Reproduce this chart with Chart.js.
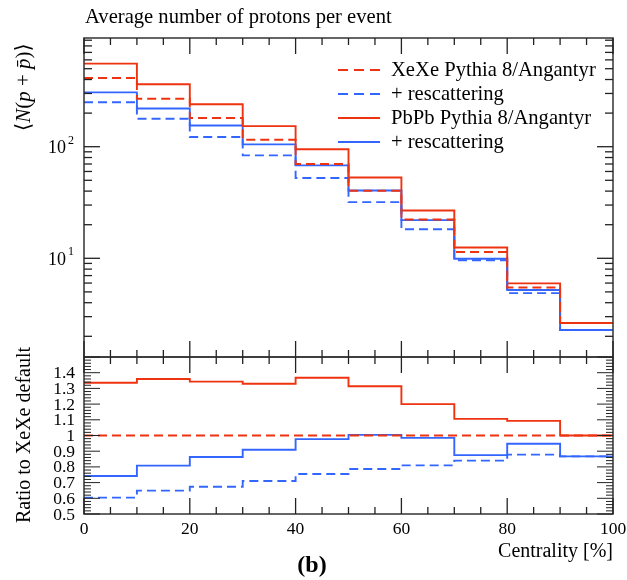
<!DOCTYPE html>
<html>
<head>
<meta charset="utf-8">
<script src="https://cdn.jsdelivr.net/npm/chart.js@4.4.1/dist/chart.umd.min.js"></script>
<style>
  html, body { margin: 0; padding: 0; background: #fff; }
  #wrap { position: relative; width: 627px; height: 580px; }
  #wrap canvas { position: absolute; left: 0; top: 0; }
</style>
</head>
<body>
<div id="wrap">
  <canvas id="mainChart" width="627" height="580"></canvas>
  <canvas id="ratioChart" width="627" height="580"></canvas>
</div>
<script>
// bin edges of the centrality classes
const binEdges = [0, 10, 20, 30, 40, 50, 60, 70, 80, 90, 100];

// <N(p + pbar)> per centrality bin
const xeDefault = [413, 269, 181, 115.5, 70, 40.3, 22.3, 11.4, 5.47, 2.63];
const xeRescatter = [250, 178, 122, 83.6, 52.5, 31.9, 18.2, 9.6, 4.87, 2.28];
const pbDefault = [555, 363, 240, 153, 95, 53, 26.8, 12.5, 5.96, 2.63];
const pbRescatter = [307, 220, 155, 105, 68, 40.5, 22.0, 9.9, 5.2, 2.28];

// ratio to XeXe default
const ratioXeDefault = [1, 1, 1, 1, 1, 1, 1, 1, 1, 1];
const ratioXeRescatter = [0.604, 0.649, 0.674, 0.71, 0.755, 0.787, 0.81, 0.84, 0.878, 0.867];
const ratioPbDefault = [1.336, 1.36, 1.343, 1.33, 1.368, 1.314, 1.2, 1.106, 1.093, 1.0];
const ratioPbRescatter = [0.742, 0.808, 0.863, 0.909, 0.977, 1.004, 0.985, 0.875, 0.947, 0.867];

// tick labels
const xTickLabels = ['0', '20', '40', '60', '80', '100'];
const logTickExponents = ['1', '2'];
const ratioTickLabels = ['0.5', '0.6', '0.7', '0.8', '0.9', '1', '1.1', '1.2', '1.3', '1.4'];

const legendLabels = ['XeXe Pythia 8/Angantyr', '+ rescattering', 'PbPb Pythia 8/Angantyr', '+ rescattering'];

const RED = '#ee3311';
const BLUE = '#3366ff';
const DASH = [9, 5];
const FONT = '"Liberation Serif", "DejaVu Serif", serif';

// histogram -> points for a stepped line (last value repeated at right edge)
function steps(vals) {
  return binEdges.map((x, i) => ({ x: x, y: vals[Math.min(i, vals.length - 1)] }));
}

function series(vals, color, dashed) {
  return {
    data: steps(vals),
    borderColor: color,
    borderWidth: 1.9,
    borderDash: dashed ? DASH : [],
    stepped: 'before',
    pointRadius: 0,
    fill: false
  };
}

function line(ctx, x1, y1, x2, y2) {
  ctx.beginPath();
  ctx.moveTo(x1, y1);
  ctx.lineTo(x2, y2);
  ctx.stroke();
}

function drawFrame(ctx, a) {
  ctx.save();
  ctx.strokeStyle = '#333';
  ctx.lineWidth = 1.5;
  ctx.strokeRect(a.left, a.top, a.right - a.left, a.bottom - a.top);
  ctx.restore();
}

function drawXTicks(ctx, xs, a) {
  ctx.save();
  ctx.strokeStyle = '#222';
  ctx.lineWidth = 1.3;
  for (let v = 0; v <= 100; v += 5) {
    const x = xs.getPixelForValue(v);
    const len = v % 20 === 0 ? 16 : 7;
    line(ctx, x, a.top, x, a.top + len);
    line(ctx, x, a.bottom, x, a.bottom - len);
  }
  ctx.restore();
}

const mainPanel = {
  id: 'mainPanel',
  afterDatasetsDraw(chart) {
    const ctx = chart.ctx;
    const a = chart.chartArea;
    const ys = chart.scales.y;
    drawFrame(ctx, a);
    drawXTicks(ctx, chart.scales.x, a);

    // log y ticks, both sides
    ctx.save();
    ctx.strokeStyle = '#222';
    ctx.lineWidth = 1.3;
    for (let k = 0; k <= 2; k++) {
      for (let m = 1; m <= 9; m++) {
        const v = m * Math.pow(10, k);
        if (v < ys.min || v > ys.max) continue;
        const y = ys.getPixelForValue(v);
        const len = m === 1 ? 16 : 8;
        line(ctx, a.left, y, a.left + len, y);
        line(ctx, a.right, y, a.right - len, y);
      }
    }
    ctx.restore();

    ctx.save();
    ctx.fillStyle = '#000';
    // log tick labels 10^1, 10^2
    logTickExponents.forEach(e => {
      const y = ys.getPixelForValue(Math.pow(10, Number(e)));
      ctx.textBaseline = 'middle';
      ctx.textAlign = 'right';
      ctx.font = '12px ' + FONT;
      ctx.fillText(e, 74, y - 6);
      ctx.font = '18px ' + FONT;
      ctx.fillText('10', 66, y + 2);
    });

    // title
    ctx.textAlign = 'left';
    ctx.textBaseline = 'alphabetic';
    ctx.font = '20.6px ' + FONT;
    ctx.fillText('Average number of protons per event', 85, 23);

    // y axis title <N(p + pbar)>
    ctx.save();
    ctx.translate(24, 131);
    ctx.rotate(-Math.PI / 2);
    ctx.textBaseline = 'middle';
    const parts = [
      ['\u27E8', ''], ['N', 'italic '], ['(', ''], ['p', 'italic '],
      [' + ', ''], ['p\u0304', 'italic '], [')', ''], ['\u27E9', '']
    ];
    let px = 0;
    parts.forEach(([t, st]) => {
      ctx.font = st + '21px ' + FONT;
      ctx.fillText(t, px, 0);
      px += ctx.measureText(t).width;
    });
    ctx.restore();

    // legend
    const rows = [70, 94, 118, 142];
    const styles = [[RED, true], [BLUE, true], [RED, false], [BLUE, false]];
    rows.forEach((y, i) => {
      ctx.save();
      ctx.strokeStyle = styles[i][0];
      ctx.lineWidth = 1.9;
      ctx.setLineDash(styles[i][1] ? [10, 6] : []);
      line(ctx, 338, y, 380, y);
      ctx.restore();
      ctx.font = '20.6px ' + FONT;
      ctx.textBaseline = 'middle';
      ctx.textAlign = 'left';
      ctx.fillText(legendLabels[i], 391, y + 1);
    });
    ctx.restore();
  }
};

const ratioPanel = {
  id: 'ratioPanel',
  afterDatasetsDraw(chart) {
    const ctx = chart.ctx;
    const a = chart.chartArea;
    const xs = chart.scales.x;
    const ys = chart.scales.y;
    drawFrame(ctx, a);
    drawXTicks(ctx, xs, a);

    ctx.save();
    ctx.strokeStyle = '#222';
    ctx.lineWidth = 1;
    for (let i = 25; i <= 75; i++) {
      const y = ys.getPixelForValue(i / 50);
      const len = i % 5 === 0 ? 16 : 7;
      line(ctx, a.left, y, a.left + len, y);
      line(ctx, a.right, y, a.right - len, y);
    }
    ctx.restore();

    ctx.save();
    ctx.fillStyle = '#000';
    ctx.font = '17.5px ' + FONT;
    ctx.textAlign = 'right';
    ctx.textBaseline = 'middle';
    ratioTickLabels.forEach(t => {
      ctx.fillText(t, 75, ys.getPixelForValue(Number(t)) + 1);
    });

    ctx.textAlign = 'center';
    xTickLabels.forEach(t => {
      ctx.fillText(t, xs.getPixelForValue(Number(t)), 529);
    });

    ctx.textAlign = 'right';
    ctx.font = '20px ' + FONT;
    ctx.fillText('Centrality [%]', 613, 552);

    ctx.textAlign = 'center';
    ctx.font = 'bold 24px ' + FONT;
    ctx.fillText('(b)', 312, 566);

    // y axis title
    ctx.save();
    ctx.translate(25, 435);
    ctx.rotate(-Math.PI / 2);
    ctx.font = '20px ' + FONT;
    ctx.textAlign = 'center';
    ctx.fillText('Ratio to XeXe default', 0, 0);
    ctx.restore();
    ctx.restore();
  }
};

const common = {
  responsive: false,
  animation: false,
  devicePixelRatio: 1,
  plugins: { legend: { display: false }, tooltip: { enabled: false } },
  elements: { point: { radius: 0 } }
};

new Chart(document.getElementById('mainChart'), {
  type: 'line',
  data: {
    datasets: [
      series(xeDefault, RED, true),
      series(xeRescatter, BLUE, true),
      series(pbDefault, RED, false),
      series(pbRescatter, BLUE, false)
    ]
  },
  options: Object.assign({}, common, {
    layout: { padding: { left: 84, right: 14, top: 38, bottom: 223 } },
    scales: {
      x: { type: 'linear', min: 0, max: 100, display: false },
      y: { type: 'logarithmic', min: 1.305, max: 942, display: false }
    }
  }),
  plugins: [mainPanel]
});

new Chart(document.getElementById('ratioChart'), {
  type: 'line',
  data: {
    datasets: [
      series(ratioXeDefault, RED, true),
      series(ratioXeRescatter, BLUE, true),
      series(ratioPbDefault, RED, false),
      series(ratioPbRescatter, BLUE, false)
    ]
  },
  options: Object.assign({}, common, {
    layout: { padding: { left: 84, right: 14, top: 357, bottom: 66 } },
    scales: {
      x: { type: 'linear', min: 0, max: 100, display: false },
      y: { type: 'linear', min: 0.5, max: 1.5, display: false }
    }
  }),
  plugins: [ratioPanel]
});
</script>
</body>
</html>
